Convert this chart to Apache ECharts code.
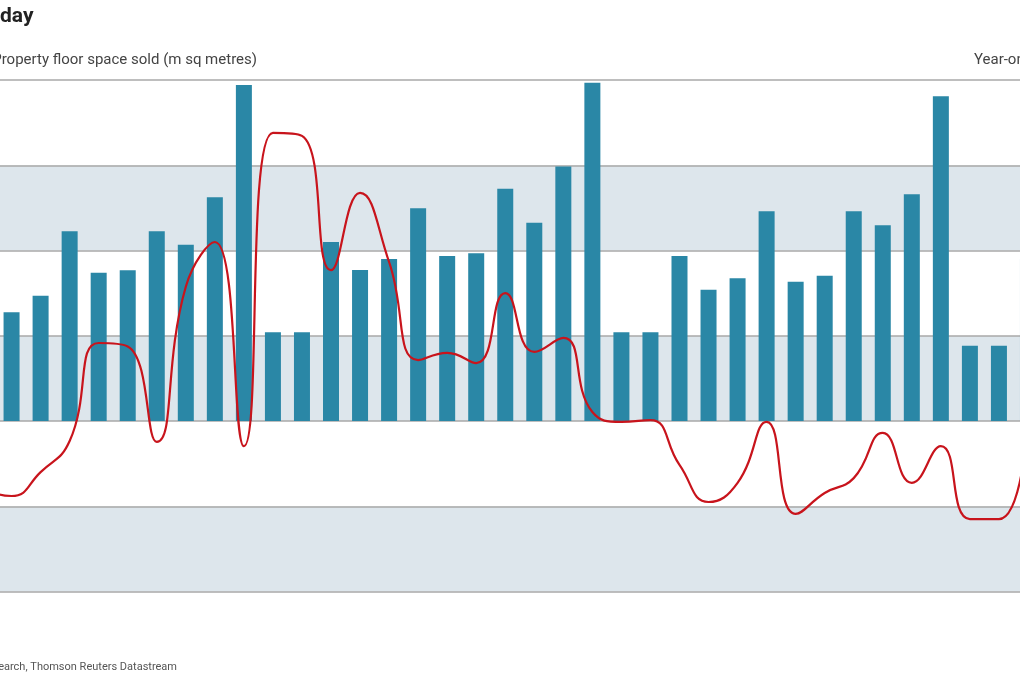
<!DOCTYPE html>
<html>
<head>
<meta charset="utf-8">
<script src="https://cdn.jsdelivr.net/npm/echarts@6/dist/echarts.min.js"></script>
<style>
  html, body { margin: 0; padding: 0; background: #fff; overflow: hidden; }
  /* the plot is wider than the window: first and last columns are cropped */
  #chart { position: absolute; left: -32px; top: 0; width: 1075px; height: 680px; }
</style>
</head>
<body>
<div id="chart"></div>
<script>
// months (first and last columns fall outside the visible crop)
var months = [
    'Mar 2012', 'Apr 2012', 'May 2012', 'Jun 2012', 'Jul 2012', 'Aug 2012', 'Sep 2012',
    'Oct 2012', 'Nov 2012', 'Dec 2012',
    'Jan 2013', 'Feb 2013', 'Mar 2013', 'Apr 2013', 'May 2013', 'Jun 2013', 'Jul 2013',
    'Aug 2013', 'Sep 2013', 'Oct 2013', 'Nov 2013', 'Dec 2013',
    'Jan 2014', 'Feb 2014', 'Mar 2014', 'Apr 2014', 'May 2014', 'Jun 2014', 'Jul 2014',
    'Aug 2014', 'Sep 2014', 'Oct 2014', 'Nov 2014', 'Dec 2014',
    'Jan 2015', 'Feb 2015', 'Mar 2015'
];

// property floor space sold (m sq metres)
var floorSpace = [
    78, 63.8, 73.5, 111.3, 87.0, 88.4, 111.3, 103.4, 131.2, 197.1,
    52.0, 52.0, 105.0, 88.6, 95.0, 124.8, 96.8, 98.4, 136.2, 116.3, 149.2, 198.4,
    52.0, 52.0, 96.8, 77.0, 83.7, 123.0, 81.7, 85.2, 123.0, 114.8, 133.0, 190.4,
    44.2, 44.2, 95.0
];

// year-on-year change (%)
var yoyChange = [
    -16, -17.6, -12.0, -4.7, 18.3, 17.5, -4.9, 31.5, 42.0, -5.9,
    67.6, 66.9, 35.4, 53.5, 37.3, 14.3, 16.0, 13.6, 30.0, 16.2, 19.5, 2.1,
    -0.2, 0.2, -10.3, -19.0, -14.5, -0.2, -21.8, -16.9, -13.4, -2.8, -14.5, -5.9,
    -23.0, -23.0, -1.0
];

var textFont = 'Roboto, "Open Sans", sans-serif';
var shift = 32; // container starts 32px left of the window

var chart = echarts.init(document.getElementById('chart'));
var option = {
    animation: false,
    backgroundColor: '#fff',
    grid: {
        left: 0,
        right: 0.5,
        top: 80,
        bottom: 88.5
    },
    xAxis: {
        type: 'category',
        data: months,
        boundaryGap: true,
        axisLine: { show: false },
        axisTick: { show: false },
        axisLabel: { show: false },
        splitLine: { show: false }
    },
    yAxis: [{
        type: 'value',
        min: -100,
        max: 200,
        interval: 50,
        axisLine: { show: false },
        axisTick: { show: false },
        axisLabel: { show: false },
        splitLine: { show: true, lineStyle: { color: '#a8a8a8', width: 1.5 } },
        splitArea: { show: true, areaStyle: { color: ['#dde6ec', '#ffffff'] } }
    }, {
        type: 'value',
        min: -40,
        max: 80,
        interval: 20,
        axisLine: { show: false },
        axisTick: { show: false },
        axisLabel: { show: false },
        splitLine: { show: false }
    }],
    series: [{
        name: 'Property floor space sold',
        type: 'bar',
        data: floorSpace,
        barWidth: 16,
        itemStyle: { color: '#2a87a6' },
        z: 2
    }, {
        name: 'Year-on-year change',
        type: 'line',
        yAxisIndex: 1,
        data: yoyChange,
        smooth: 0.5,
        symbol: 'none',
        lineStyle: { color: '#c8141c', width: 2.2 },
        z: 3
    }],
    graphic: [{
        type: 'text',
        x: shift,
        y: 6,
        style: {
            text: 'day',
            font: 'bold 21px ' + textFont,
            fill: '#222'
        }
    }, {
        type: 'text',
        x: shift + 257,
        y: 60,
        style: {
            text: 'Property floor space sold (m sq metres)',
            font: '15px ' + textFont,
            fill: '#444',
            align: 'right',
            verticalAlign: 'middle'
        }
    }, {
        type: 'text',
        x: shift + 974,
        y: 60,
        style: {
            text: 'Year-on-year change (%)',
            font: '15px ' + textFont,
            fill: '#444',
            align: 'left',
            verticalAlign: 'middle'
        }
    }, {
        type: 'text',
        x: shift + 177,
        y: 667,
        style: {
            text: 'Research, Thomson Reuters Datastream',
            font: '11px ' + textFont,
            fill: '#555',
            align: 'right',
            verticalAlign: 'middle'
        }
    }]
};
chart.setOption(option);
</script>
</body>
</html>
